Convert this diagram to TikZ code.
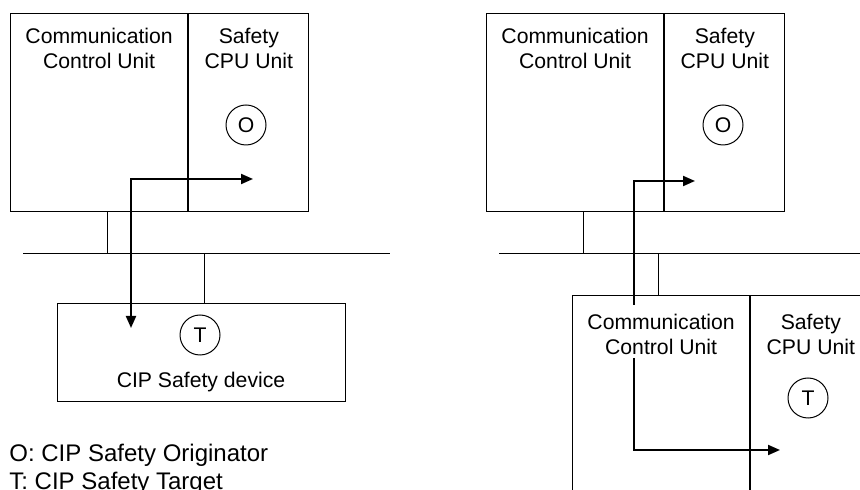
\documentclass[tikz,border=0pt]{standalone}
\usepackage{fontspec}
\setmainfont{Liberation Sans}
\usetikzlibrary{arrows.meta, positioning}

\begin{document}
\begin{tikzpicture}[
  x=0.5pt, y=-0.5pt,
  font=\fontsize{10.6}{12.5}\selectfont,
  >={Triangle[length=6pt, width=5pt]},
  comm/.style={draw, line width=0.6pt, anchor=north west, minimum width=88.5pt,
               minimum height=99pt, inner sep=0pt},
  safe/.style={draw, line width=0.6pt, anchor=north west, minimum width=60pt,
               minimum height=99pt, inner sep=0pt},
  device/.style={draw, line width=0.6pt, anchor=north west, minimum width=144pt,
                 minimum height=49pt, inner sep=0pt},
  title/.style={align=center, inner sep=0pt},
  role/.style={draw, circle, line width=0.5pt, minimum size=20pt, inner sep=0pt},
  legend/.style={anchor=base west, inner sep=0pt, font=\fontsize{12}{13.5}\selectfont},
  wire/.style={line width=0.5pt},
  flow/.style={line width=1pt}
]
  \clip (0,0) rectangle (860,490);

  % Left: originator and plain device
  \node[comm] (cc1) at (10,13) {};
  \node[safe] (cpu1) at (cc1.north east) {};
  \node[title, below=7.3pt of cc1.north] (cc1name) {Communication\\Control Unit};
  \node[title, below=7.3pt of cpu1.north] (cpu1name) {Safety\\CPU Unit};
  \node[role] (orig1) at (246,125) {O};

  \coordinate (busL1) at (23,254);
  \coordinate (busL2) at (390,254);
  \draw[wire] (busL1) -- (busL2);
  \draw[wire] ([xshift=4.25pt]cc1.south) -- ([xshift=4.25pt]cc1.south |- busL1);

  \node[device] (dev) at (57,303) {};
  \draw[wire] ([xshift=1.5pt]dev.north) -- ([xshift=1.5pt]dev.north |- busL1);
  \node[role] (targ1) at (200,335) {T};
  \node[title, anchor=base] (devname) at (201,388) {CIP Safety device};

  \coordinate (t1in) at (131,328);
  \coordinate (o1in) at (253,179);
  \draw[flow, <->] (t1in) |- (o1in);

  % Legend
  \node[legend] (legO) at (9,462) {O: CIP Safety Originator};
  \node[legend] (legT) at (9,489) {T: CIP Safety Target};

  % Right: originator and safety controller as target
  \node[comm] (cc2) at (486,13) {};
  \node[safe] (cpu2) at (cc2.north east) {};
  \node[title, below=7.3pt of cc2.north] (cc2name) {Communication\\Control Unit};
  \node[title, below=7.3pt of cpu2.north] (cpu2name) {Safety\\CPU Unit};
  \node[role] (orig2) at (723,125) {O};

  \coordinate (busR1) at (499,254);
  \coordinate (busR2) at (880,254);
  \draw[wire] (busR1) -- (busR2);
  \draw[wire] ([xshift=4.25pt]cc2.south) -- ([xshift=4.25pt]cc2.south |- busR1);

  \node[comm] (cc3) at (572,295) {};
  \node[safe] (cpu3) at (cc3.north east) {};
  \draw[wire] ([xshift=-1.25pt]cc3.north) -- ([xshift=-1.25pt]cc3.north |- busR1);
  \node[title, below=9.3pt of cc3.north] (cc3name) {Communication\\Control Unit};
  \node[title, below=9.3pt of cpu3.north] (cpu3name) {Safety\\CPU Unit};
  \node[role] (targ2) at (808,398) {T};

  \coordinate (cc3up) at (634,305);
  \coordinate (o2in) at (695,181);
  \draw[flow, ->] (cc3up) |- (o2in);
  \coordinate (cc3down) at (634,358);
  \coordinate (t2in) at (780,450);
  \draw[flow, ->] (cc3down) |- (t2in);
\end{tikzpicture}
\end{document}
